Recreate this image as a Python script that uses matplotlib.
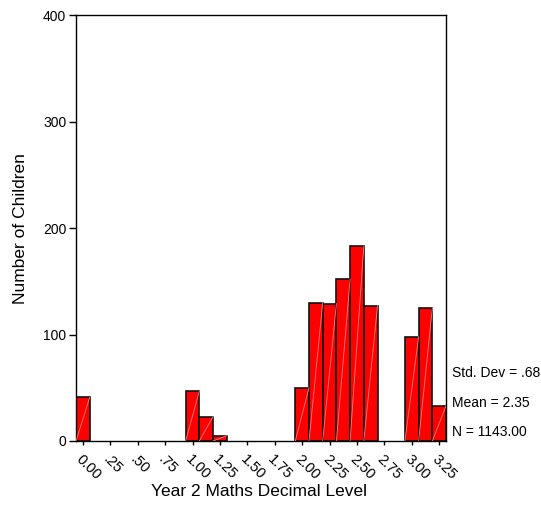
import numpy as np
import matplotlib
matplotlib.use("Agg")
import matplotlib.pyplot as plt

plt.rcParams['font.family'] = ['Liberation Sans', 'DejaVu Sans']

# bin midpoints (width .125) and counts
bin_width = 0.125
mids = [0.00, 1.00, 1.125, 1.25, 2.00, 2.125, 2.25, 2.375, 2.50, 2.625, 3.00, 3.125, 3.25]
counts = [41, 47, 23, 5, 50, 130, 129, 152, 183, 127, 98, 125, 33]

tick_vals = [0.00, 0.25, 0.50, 0.75, 1.00, 1.25, 1.50, 1.75, 2.00, 2.25, 2.50, 2.75, 3.00, 3.25]
tick_labels = ["0.00", ".25", ".50", ".75", "1.00", "1.25", "1.50", "1.75",
               "2.00", "2.25", "2.50", "2.75", "3.00", "3.25"]
y_ticks = [0, 100, 200, 300, 400]
stats = ["Std. Dev = .68", "Mean = 2.35", "N = 1143.00"]

fig = plt.figure(figsize=(5.41, 5.31), dpi=100)
ax = fig.add_axes([0.1405, 0.1695, 0.684, 0.802])

ax.bar(mids, counts, width=bin_width, color='#ff0000', edgecolor='#111111',
       linewidth=1.2, zorder=2)
# faint diagonal line inside each bar
for m, c in zip(mids, counts):
    ax.plot([m - bin_width / 2, m + bin_width / 2], [0, c], color='#ff8080',
            linewidth=0.6, zorder=3)

ax.set_xlim(-0.0625, 3.3125)
ax.set_ylim(0, 400)

ax.set_xticks(tick_vals)
ax.set_xticklabels(tick_labels, rotation=-45, ha='left', va='top',
                   rotation_mode='anchor', fontsize=10.5)
ax.set_yticks(y_ticks)
ax.set_yticklabels([str(v) for v in y_ticks], fontsize=10)
ax.tick_params(axis='x', direction='out', length=3, width=1, pad=5)
ax.tick_params(axis='y', direction='out', length=5, width=1, pad=2)

for s in ax.spines.values():
    s.set_linewidth(1.0)
    s.set_color('black')

ax.set_ylabel("Number of Children", fontsize=12.5, labelpad=11)
fig.text(0.478, 0.075, "Year 2 Maths Decimal Level", fontsize=12.5,
         ha='center', va='center')

for i, t in enumerate(stats):
    ax.text(1.015, 0.16 - i * 0.07, t, transform=ax.transAxes, fontsize=10,
            ha='left', va='center')

fig.savefig("out.png", dpi=100)
